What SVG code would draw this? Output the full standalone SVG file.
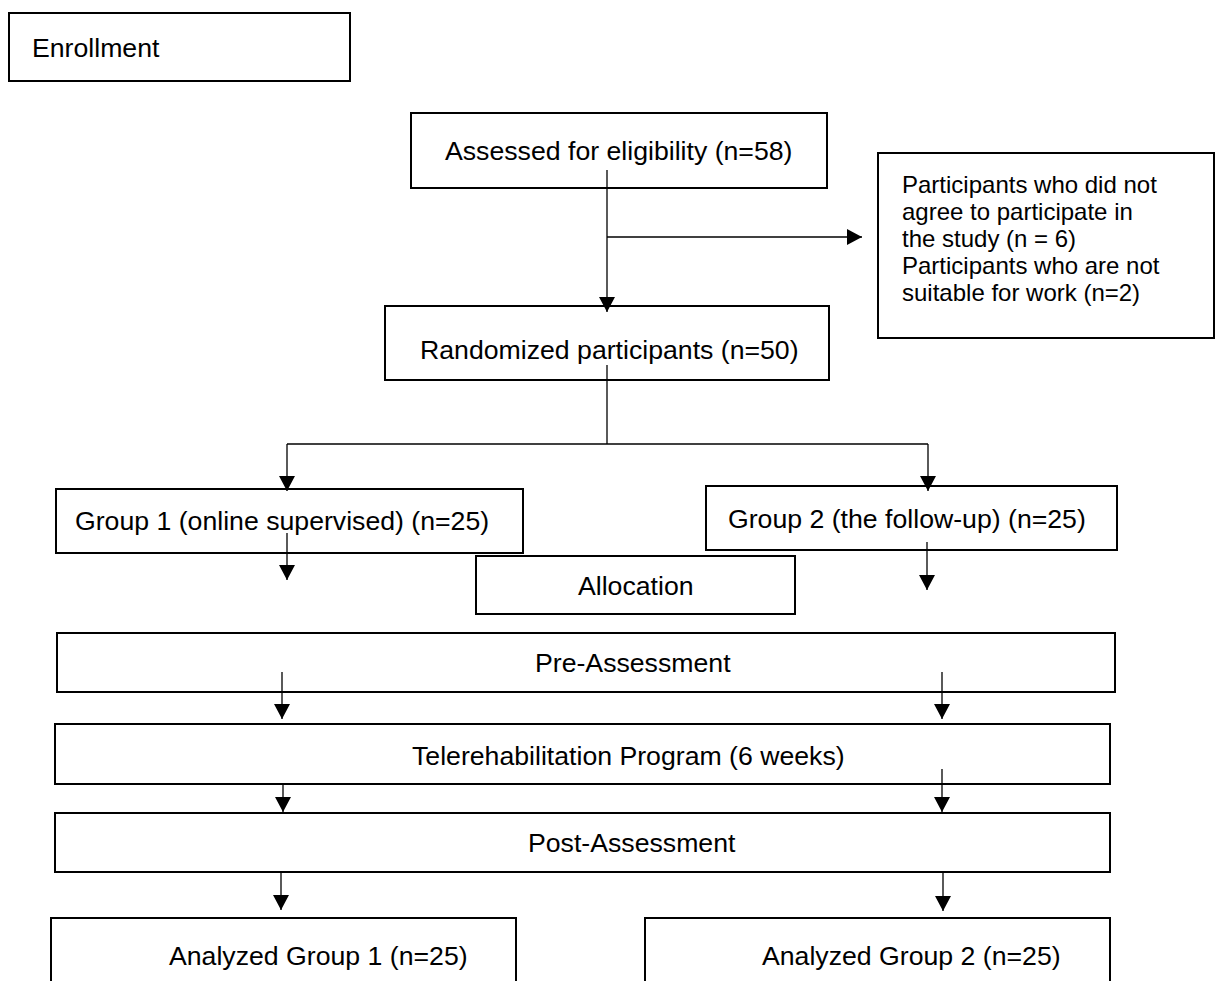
<svg xmlns="http://www.w3.org/2000/svg" width="1216" height="981" viewBox="0 0 1216 981">
<style>
.box{fill:#fff;stroke:#000;stroke-width:2}
.t{font-family:"Liberation Sans",Arial,sans-serif;font-size:26.67px;fill:#000}
.s{font-size:24px}
.c{fill:none;stroke:#000;stroke-width:1.3}
</style>
<defs>
<marker id="ah" markerUnits="userSpaceOnUse" markerWidth="16" markerHeight="17" refX="15" refY="8" orient="auto">
<path d="M0,0 L15,8 L0,16 z" fill="#000"/>
</marker>
</defs>
<rect width="1216" height="981" fill="#fff"/>
<g id="enrollment"><rect class="box" x="9" y="13" width="341" height="68"/><text class="t" x="32" y="57">Enrollment</text></g>
<g id="assessed"><rect class="box" x="411" y="113" width="416" height="75"/><text class="t" x="445" y="160">Assessed for eligibility (n=58)</text></g>
<g id="excluded"><rect class="box" x="878" y="153" width="336" height="185"/>
<text class="t s" x="902" y="193">Participants who did not</text>
<text class="t s" x="902" y="220">agree to participate in</text>
<text class="t s" x="902" y="247">the study (n = 6)</text>
<text class="t s" x="902" y="274">Participants who are not</text>
<text class="t s" x="902" y="301">suitable for work (n=2)</text></g>
<g id="randomized"><rect class="box" x="385" y="306" width="444" height="74"/><text class="t" x="420" y="359">Randomized participants (n=50)</text></g>
<g id="group1"><rect class="box" x="56" y="489" width="467" height="64"/><text class="t" x="75" y="530">Group 1 (online supervised) (n=25)</text></g>
<g id="group2"><rect class="box" x="706" y="486" width="411" height="64"/><text class="t" x="728" y="528">Group 2 (the follow-up) (n=25)</text></g>
<g id="allocation"><rect class="box" x="476" y="556" width="319" height="58"/><text class="t" x="578" y="595">Allocation</text></g>
<g id="pre"><rect class="box" x="57" y="633" width="1058" height="59"/><text class="t" x="535" y="672">Pre-Assessment</text></g>
<g id="tele"><rect class="box" x="55" y="724" width="1055" height="60"/><text class="t" x="412" y="765">Telerehabilitation Program (6 weeks)</text></g>
<g id="post"><rect class="box" x="55" y="813" width="1055" height="59"/><text class="t" x="528" y="852">Post-Assessment</text></g>
<g id="analyzed1"><rect class="box" x="51" y="918" width="465" height="90"/><text class="t" x="169" y="965">Analyzed Group 1 (n=25)</text></g>
<g id="analyzed2"><rect class="box" x="645" y="918" width="465" height="90"/><text class="t" x="762" y="965">Analyzed Group 2 (n=25)</text></g>
<g id="connectors">
<path class="c" d="M607,170 V312" marker-end="url(#ah)"/>
<path class="c" d="M607,237 H862" marker-end="url(#ah)"/>
<path class="c" d="M607,365 V444"/>
<path class="c" d="M287,444 H928"/>
<path class="c" d="M287,444 V491" marker-end="url(#ah)"/>
<path class="c" d="M928,444 V491" marker-end="url(#ah)"/>
<path class="c" d="M287,533 V580" marker-end="url(#ah)"/>
<path class="c" d="M927,542 V590" marker-end="url(#ah)"/>
<path class="c" d="M282,672 V719" marker-end="url(#ah)"/>
<path class="c" d="M942,672 V719" marker-end="url(#ah)"/>
<path class="c" d="M283,784 V812" marker-end="url(#ah)"/>
<path class="c" d="M942,769 V812" marker-end="url(#ah)"/>
<path class="c" d="M281,872 V910" marker-end="url(#ah)"/>
<path class="c" d="M943,872 V911" marker-end="url(#ah)"/>
</g>
</svg>
